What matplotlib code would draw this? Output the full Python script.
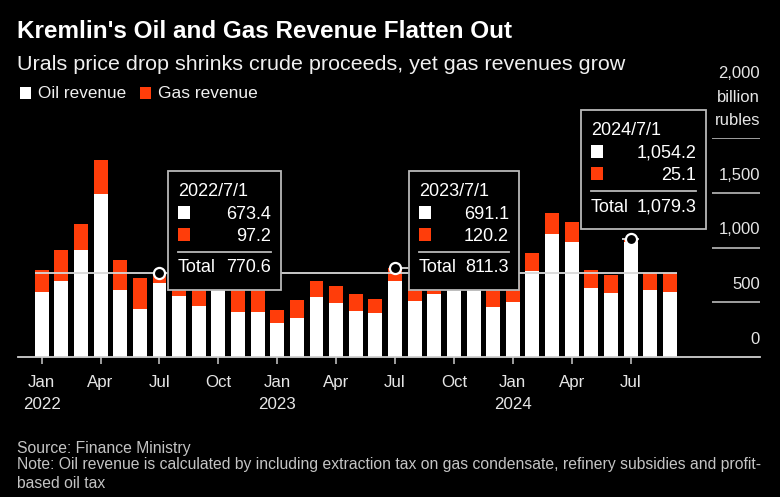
import numpy as np
import matplotlib
matplotlib.use('Agg')
import matplotlib.pyplot as plt
import matplotlib.transforms as mtransforms
from matplotlib.patches import Rectangle
from matplotlib.lines import Line2D

plt.rcParams['font.family'] = ['Liberation Sans', 'DejaVu Sans']

# ---------------- data ----------------
months = ['2022-01', '2022-02', '2022-03', '2022-04', '2022-05', '2022-06',
          '2022-07', '2022-08', '2022-09', '2022-10', '2022-11', '2022-12',
          '2023-01', '2023-02', '2023-03', '2023-04', '2023-05', '2023-06',
          '2023-07', '2023-08', '2023-09', '2023-10', '2023-11', '2023-12',
          '2024-01', '2024-02', '2024-03', '2024-04', '2024-05', '2024-06',
          '2024-07', '2024-08', '2024-09']
oil_revenue = [596, 693, 976, 1493, 611, 441, 673.4, 556, 468, 700, 408, 408,
               307, 359, 547, 490, 420, 398, 691.1, 511, 575, 1250, 700, 459,
               499, 785, 1122, 1052, 633, 587, 1054.2, 611, 593]
gas_revenue = [198, 283, 235, 304, 274, 277, 97.2, 94, 182, 300, 592, 642,
               122, 161, 146, 161, 152, 128, 120.2, 219, 225, 200, 200, 321,
               201, 161, 189, 183, 161, 161, 25.1, 159, 177]
tick_positions = [0, 3, 6, 9, 12, 15, 18, 21, 24, 27, 30]
tick_months = ['Jan', 'Apr', 'Jul', 'Oct', 'Jan', 'Apr', 'Jul', 'Oct', 'Jan', 'Apr', 'Jul']
tick_years = ['2022', '', '', '', '2023', '', '', '', '2024', '', '']
y_values = [0, 500, 1000, 1500, 2000]
y_labels = ['0', '500', '1,000', '1,500', '2,000']
highlight_idx = [6, 18, 30]
highlight_dates = ['2022/7/1', '2023/7/1', '2024/7/1']

RED = '#ff3d0a'
W, H = 780, 497

fig = plt.figure(figsize=(W / 100, H / 100), dpi=100, facecolor='black')
renderer = fig.canvas.get_renderer()


def fx(px):
    return px / W


def fy(py):
    return 1 - py / H


def fit(t, target):
    w = t.get_window_extent(renderer).width
    t.set_fontsize(t.get_fontsize() * target / w)


# ---------------- axes ----------------
AX_L, AX_R, AX_T, AX_B = 18, 760, 138, 357
X0, STEP = 41.7, 19.63
ax = fig.add_axes([fx(AX_L), fy(AX_B), (AX_R - AX_L) / W, (AX_B - AX_T) / H])
ax.set_facecolor('black')
ax.set_xlim(-(X0 - AX_L) / STEP, (AX_R - X0) / STEP)
ax.set_ylim(0, 2000)

x = np.arange(len(months))
oil = np.array(oil_revenue)
gas = np.array(gas_revenue)
ax.bar(x, oil, width=0.71, color='white', zorder=2, linewidth=0)
ax.bar(x, gas, bottom=oil, width=0.71, color=RED, zorder=2, linewidth=0)

for s in ['left', 'right', 'top']:
    ax.spines[s].set_visible(False)
ax.spines['bottom'].set_color('#d0d0d0')
ax.spines['bottom'].set_linewidth(1.3)
ax.set_yticks([])
ax.set_xticks(tick_positions)
ax.set_xticklabels([''] * len(tick_positions))
ax.tick_params(axis='x', colors='#bbbbbb', length=5, width=1.2)

blend = mtransforms.blended_transform_factory(ax.transData, fig.transFigure)
for p, m, yr in zip(tick_positions, tick_months, tick_years):
    ax.text(p, fy(386.7), m, transform=blend, ha='center', va='baseline',
            color='#e6e6e6', fontsize=12.2)
    if yr:
        ax.text(p, fy(409), yr, transform=blend, ha='center', va='baseline',
                color='#e6e6e6', fontsize=12.2)

# right-side grid + labels
gx0 = (712 - X0) / STEP
ax.hlines(y_values[1:], gx0, ax.get_xlim()[1], color='#bbbbbb', lw=1.2, zorder=1)
offsets = [13, 13, 13, 13, 60]
for v, lab, off in zip(y_values, y_labels, offsets):
    ax.annotate(lab, xy=(1.0, v), xycoords=('axes fraction', 'data'),
                xytext=(0, off), textcoords='offset pixels', ha='right',
                va='baseline', color='#e6e6e6', fontsize=12)
ax.annotate('billion', xy=(1.0, 2000), xycoords=('axes fraction', 'data'),
            xytext=(0, 36), textcoords='offset pixels', ha='right',
            va='baseline', color='#e6e6e6', fontsize=12)
ax.annotate('rubles', xy=(1.0, 2000), xycoords=('axes fraction', 'data'),
            xytext=(0, 13), textcoords='offset pixels', ha='right',
            va='baseline', color='#e6e6e6', fontsize=12)

# reference line at first highlighted total + crosshair stubs
totals = oil + gas
hl0 = highlight_idx[0]
ax.hlines(totals[hl0], -0.355, len(months) - 1 + 0.355, color='#d8d8d8', lw=1.3, zorder=3)
ax.hlines(totals[highlight_idx[1]], highlight_idx[1], highlight_idx[1] + 0.7,
          color='#d8d8d8', lw=1.3, zorder=3)
ax.hlines(totals[highlight_idx[2]], highlight_idx[2] - 0.45, highlight_idx[2] + 0.45,
          color='#d8d8d8', lw=1.3, zorder=3)
ax.scatter(highlight_idx, totals[highlight_idx], s=64, facecolor='black',
           edgecolor='white', linewidth=1.6, zorder=5)

# ---------------- tooltips ----------------
boxes = [(168, 281, 171), (409, 519, 171), (581, 706, 110)]
for (L, R, T), i, d in zip(boxes, highlight_idx, highlight_dates):
    fig.patches.append(Rectangle((fx(L), fy(T + 119)), (R - L) / W, 119 / H,
                                 transform=fig.transFigure, facecolor='black',
                                 edgecolor='#b8b8b8', lw=1.3, zorder=6))
    fig.text(fx(L + 10), fy(T + 25), d, color='white', fontsize=13,
             va='baseline', ha='left', zorder=7)
    for yc, col, val in [(T + 41.5, 'white', oil[i]), (T + 63.5, RED, gas[i])]:
        fig.patches.append(Rectangle((fx(L + 10), fy(yc + 6)), 12 / W, 12 / H,
                                     transform=fig.transFigure, facecolor=col,
                                     lw=0, zorder=7))
        fig.text(fx(R - 10), fy(yc + 6.5), f'{val:,.1f}', color='white', fontsize=13,
                 va='baseline', ha='right', zorder=7)
    fig.lines.append(Line2D([fx(L + 10), fx(R - 10)], [fy(T + 81), fy(T + 81)],
                            transform=fig.transFigure, color='#b8b8b8', lw=1.3,
                            zorder=7))
    fig.text(fx(L + 10), fy(T + 101.5), 'Total', color='white', fontsize=13,
             va='baseline', ha='left', zorder=7)
    fig.text(fx(R - 10), fy(T + 101.5), f'{totals[i]:,.1f}', color='white',
             fontsize=13, va='baseline', ha='right', zorder=7)

# ---------------- titles / legend / notes ----------------
t = fig.text(fx(17), fy(38.5), "Kremlin's Oil and Gas Revenue Flatten Out",
             color='white', fontsize=17.5, fontweight='bold', va='baseline')
fit(t, 495)
t = fig.text(fx(17), fy(70), 'Urals price drop shrinks crude proceeds, yet gas revenues grow',
             color='#f0f0f0', fontsize=15, va='baseline')
fit(t, 607)

fig.patches.append(Rectangle((fx(20), fy(98.5)), 11 / W, 11 / H, transform=fig.transFigure,
                             facecolor='white', lw=0))
t = fig.text(fx(38.3), fy(98.5), 'Oil revenue', color='#f0f0f0', fontsize=12.5, va='baseline')
fit(t, 88)
fig.patches.append(Rectangle((fx(139.5), fy(98.5)), 11 / W, 11 / H, transform=fig.transFigure,
                             facecolor=RED, lw=0))
t = fig.text(fx(158.3), fy(98.5), 'Gas revenue', color='#f0f0f0', fontsize=12.5, va='baseline')
fit(t, 100)

t = fig.text(fx(17.3), fy(453.3), 'Source: Finance Ministry', color='#c4c4c4',
             fontsize=11.5, va='baseline')
fit(t, 173.4)
t = fig.text(fx(17.3), fy(469.5),
             'Note: Oil revenue is calculated by including extraction tax on gas condensate, '
             'refinery subsidies and profit-', color='#c4c4c4', fontsize=11.5, va='baseline')
fit(t, 744)
fig.text(fx(17.3), fy(487.5), 'based oil tax', color='#c4c4c4', fontsize=t.get_fontsize(),
         va='baseline')

fig.savefig('out.png', dpi=100, facecolor='black')
